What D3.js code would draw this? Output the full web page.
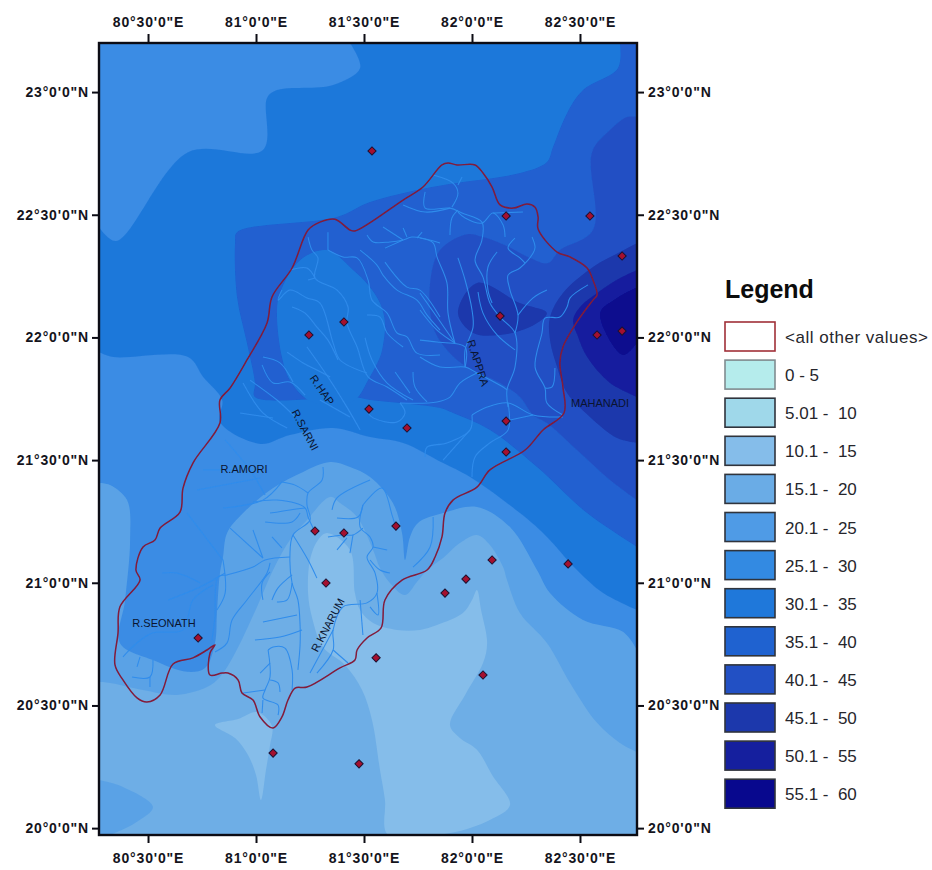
<!DOCTYPE html>
<html><head><meta charset="utf-8">
<style>html,body{margin:0;background:#fff}svg{display:block}</style>
<script src="https://cdn.jsdelivr.net/npm/d3@7"></script></head><body>
<div id="chart"></div>
<script>
const lonDomain=[80.273,82.764], latDomain=[23.2,19.972];
const lonTicks=[80.5,81,81.5,82,82.5];
const latTicks=[23,22.5,22,21.5,21,20.5,20];
const legendLabels=["<all other values>","0 - 5","5.01 -  10","10.1 -  15","15.1 -  20","20.1 -  25","25.1 -  30","30.1 -  35","35.1 -  40","40.1 -  45","45.1 -  50","50.1 -  55","55.1 -  60"];
const legendColors=["#ffffff","#b5ecec","#9fd8ea","#85bdea","#6aace6","#4f9be6","#338ae2","#1f78da","#1f62d0","#2250c4","#1c38ac","#151f9e","#08088e"];
const legendStrokes=["#a03038","#808c90","#30343c","#30343c","#30343c","#30343c","#30343c","#30343c","#30343c","#30343c","#30343c","#30343c","#30343c"];

// rainfall bands: each is the region at or above the lower class limit (lon, lat)
const low10=[[81.329,21.203],[81.435,21.134],[81.458,20.958],[81.482,20.889],[81.542,20.836],[81.653,20.808],[81.759,20.808],[81.838,20.828],[81.958,20.877],[82,20.93],[82.023,20.971],[82.042,20.889],[82.07,20.755],[82.051,20.673],[81.968,20.543],[81.898,20.42],[81.944,20.367],[82.023,20.319],[82.093,20.217],[82.176,20.094],[82.083,20.033],[81.898,19.98],[81.611,19.972],[81.597,20.115],[81.574,20.237],[81.537,20.441],[81.491,20.563],[81.412,20.665],[81.31,20.738],[81.259,20.86],[81.241,20.958],[81.25,21.093],[81.287,21.174]];
const low10Spike=[[80.81,20.42],[80.917,20.445],[81.005,20.473],[81.074,20.416],[81.065,20.339],[81.046,20.237],[81.023,20.115],[81,20.217],[80.963,20.298],[80.903,20.367]];
const ge20Corner=[[80.273,20.196],[80.384,20.168],[80.523,20.086],[80.44,20.021],[80.324,19.972],[80.273,19.972]];
const ge20=[[80.273,20.596],[80.324,20.592],[80.477,20.563],[80.634,20.543],[80.773,20.575],[80.833,20.616],[80.894,20.698],[81.005,20.902],[81.079,21.052],[81.157,21.174],[81.236,21.256],[81.343,21.35],[81.389,21.325],[81.468,21.268],[81.542,21.134],[81.574,21.06],[81.62,20.999],[81.69,20.95],[81.745,21.003],[81.792,21.052],[81.866,21.101],[81.944,21.162],[82.023,21.195],[82.083,21.154],[82.144,21.064],[82.162,21.011],[82.222,20.877],[82.347,20.755],[82.454,20.592],[82.579,20.429],[82.685,20.347],[82.764,20.31],[82.764,23.2],[80.273,23.2]];
const ge25=[[80.273,21.407],[80.324,21.399],[80.403,21.337],[80.417,21.174],[80.394,20.93],[80.37,20.755],[80.523,20.685],[80.681,20.637],[80.764,20.653],[80.81,20.755],[80.819,20.877],[80.833,21.04],[80.847,21.105],[80.866,21.203],[80.94,21.284],[81.079,21.386],[81.218,21.452],[81.343,21.492],[81.435,21.472],[81.528,21.431],[81.634,21.325],[81.676,21.203],[81.69,21.093],[81.713,21.187],[81.75,21.244],[81.866,21.284],[82.023,21.309],[82.176,21.227],[82.301,21.052],[82.361,20.958],[82.514,20.848],[82.699,20.8],[82.764,20.726],[82.764,23.2],[80.273,23.2]];
const ge30=[[80.273,21.941],[80.338,21.92],[80.685,21.92],[80.755,21.839],[80.843,21.745],[80.833,21.655],[81.019,21.566],[81.157,21.602],[81.357,21.631],[81.528,21.594],[81.681,21.57],[81.866,21.488],[81.991,21.431],[82.222,21.284],[82.338,21.195],[82.486,21.052],[82.607,20.958],[82.764,20.889],[82.764,23.2],[81.435,23.2],[81.482,23.098],[81.357,23.029],[81.097,23.008],[81.051,22.976],[81.032,22.764],[80.685,22.755],[80.352,22.393],[80.273,22.45]];
const ge35=[[80.912,22.429],[80.903,22.385],[80.912,22.165],[80.958,21.977],[80.995,21.814],[80.995,21.757],[81.454,21.757],[81.528,21.745],[81.667,21.733],[81.852,21.712],[81.912,21.692],[82.083,21.623],[82.301,21.472],[82.533,21.284],[82.764,21.146],[82.764,23.2],[82.685,23.2],[82.676,23.098],[82.514,23.008],[82.44,22.914],[82.375,22.776],[82.347,22.715],[82.222,22.67],[81.958,22.633],[81.792,22.609],[81.528,22.552],[81.375,22.491]];
const low30Hollow=[[81.329,22.356],[81.449,22.275],[81.519,22.214],[81.574,22.14],[81.597,22.059],[81.588,21.969],[81.574,21.92],[81.519,21.826],[81.458,21.745],[81.343,21.725],[81.241,21.745],[81.157,21.826],[81.12,21.92],[81.097,22.099],[81.111,22.181],[81.204,22.315]];
const ge40=[[82.764,22.898],[82.718,22.898],[82.639,22.845],[82.556,22.755],[82.56,22.438],[82.407,22.356],[82.352,22.303],[82.269,22.324],[82.153,22.376],[82.051,22.409],[81.977,22.421],[81.852,22.356],[81.806,22.222],[81.82,22.042],[81.884,21.949],[81.977,21.879],[82.13,21.814],[82.222,21.757],[82.283,21.684],[82.347,21.651],[82.486,21.541],[82.639,21.419],[82.764,21.337]];
const ge45Inner=[[82.023,22.222],[82.222,22.14],[82.347,22.099],[82.269,22.042],[82.13,22.01],[82.005,22.018],[81.935,22.099]];
const ge45=[[82.764,22.385],[82.685,22.348],[82.56,22.287],[82.421,22.181],[82.361,22.083],[82.361,21.989],[82.394,21.879],[82.44,21.773],[82.546,21.676],[82.671,21.59],[82.764,21.57]];
const ge50=[[82.764,22.275],[82.685,22.242],[82.579,22.181],[82.5,22.124],[82.468,22.071],[82.491,22.002],[82.533,21.92],[82.639,21.814],[82.764,21.757]];
const ge55=[[82.764,22.205],[82.671,22.161],[82.593,22.099],[82.699,21.928],[82.764,21.977]];

const stations=[[81.537,22.76],[82.158,22.495],[82.546,22.495],[82.695,22.332],[82.13,22.087],[82.579,22.01],[82.695,22.026],[81.245,22.01],[81.407,22.063],[81.523,21.708],[81.699,21.631],[82.158,21.659],[82.158,21.533],[81.648,21.231],[81.273,21.211],[81.407,21.203],[81.324,20.999],[82.093,21.093],[81.972,21.015],[81.875,20.958],[82.445,21.077],[80.732,20.775],[81.556,20.694],[82.051,20.624],[81.079,20.306],[81.477,20.262]];

const basin=[[81.681,22.56],[81.773,22.613],[81.861,22.703],[81.889,22.711],[81.931,22.703],[82.014,22.703],[82.051,22.67],[82.093,22.613],[82.13,22.54],[82.19,22.527],[82.255,22.544],[82.292,22.531],[82.306,22.491],[82.306,22.442],[82.394,22.348],[82.454,22.328],[82.533,22.283],[82.56,22.234],[82.579,22.173],[82.56,22.152],[82.486,22.063],[82.421,21.961],[82.407,21.896],[82.421,21.798],[82.426,21.692],[82.329,21.623],[82.246,21.541],[82.083,21.46],[82.023,21.39],[81.912,21.337],[81.875,21.284],[81.861,21.187],[81.829,21.105],[81.792,21.052],[81.676,21.011],[81.597,20.93],[81.579,20.816],[81.514,20.775],[81.468,20.726],[81.458,20.685],[81.389,20.653],[81.236,20.575],[81.181,20.571],[81.148,20.522],[81.12,20.453],[81.079,20.408],[81.019,20.453],[80.986,20.522],[80.935,20.551],[80.917,20.604],[80.87,20.632],[80.843,20.632],[80.787,20.624],[80.787,20.714],[80.81,20.747],[80.773,20.726],[80.708,20.694],[80.616,20.669],[80.556,20.543],[80.495,20.514],[80.449,20.531],[80.384,20.604],[80.347,20.665],[80.361,20.795],[80.37,20.902],[80.463,21.011],[80.444,21.052],[80.477,21.146],[80.532,21.174],[80.556,21.223],[80.648,21.288],[80.662,21.386],[80.708,21.488],[80.833,21.651],[80.833,21.745],[80.88,21.794],[80.958,21.908],[81.051,22.059],[81.074,22.165],[81.167,22.283],[81.241,22.438],[81.296,22.47],[81.366,22.482],[81.435,22.438],[81.458,22.434]];

const riversNorth=[
[[81.783,22.593],[81.783,22.527],[81.898,22.527],[81.954,22.507],[82.046,22.47],[82.046,22.397],[82.014,22.315],[82.051,22.246],[82.083,22.14],[82.13,22.083],[82.199,22.018],[82.199,21.879],[82.162,21.786],[82.167,21.716]],
[[81.82,22.662],[81.912,22.629],[81.935,22.588],[81.907,22.531]],
[[81.954,22.654],[81.935,22.621]],
[[81.681,22.54],[81.783,22.511],[81.898,22.527]],
[[81.935,22.511],[81.968,22.487],[82.046,22.466],[82.097,22.507],[82.144,22.458],[82.153,22.409]],
[[82.097,22.507],[82.236,22.511]],
[[81.935,22.519],[81.907,22.487],[81.898,22.417]],
[[82.199,22.018],[82.213,22.091],[82.176,22.193],[82.167,22.254],[82.222,22.283],[82.283,22.344],[82.292,22.368],[82.278,22.409]],
[[82.199,22.405],[82.167,22.364],[82.222,22.324],[82.246,22.303]],
[[82.213,22.091],[82.283,22.161],[82.347,22.193]],
[[81.935,22.324],[81.968,22.234],[82,22.112],[82.005,22.042],[81.968,21.949],[81.968,21.879]],
[[82.028,22.185],[82.051,22.099],[82.116,22.01],[82.199,21.949]],
[[82.116,22.348],[82.074,22.287],[82.074,22.193],[82.093,22.14]],
[[81.759,22.405],[81.82,22.385],[81.838,22.328],[81.884,22.222],[81.889,22.099],[81.921,21.977]],
[[81.759,22.181],[81.838,22.083],[81.921,21.977]],
[[81.759,22.112],[81.838,22.03],[81.921,21.977]],
[[81.759,21.989],[81.838,21.981],[81.968,21.961],[81.968,21.879]],
[[81.759,21.92],[81.852,21.879],[81.968,21.879],[82.023,21.855],[82.144,21.798],[82.162,21.786]],
[[82.023,21.855],[81.944,21.814],[81.898,21.757],[81.838,21.737],[81.667,21.733]],
[[82.537,22.214],[82.454,22.161],[82.44,22.124],[82.407,22.083],[82.338,22.079],[82.324,22.018],[82.292,21.879],[82.338,21.794],[82.347,21.733],[82.421,21.684]],
[[82.384,21.875],[82.371,21.798],[82.338,21.794]],
[[82,21.684],[82.07,21.716],[82.167,21.733],[82.283,21.684],[82.421,21.676]],
[[82,21.684],[81.991,21.623],[81.884,21.57],[81.792,21.553],[81.783,21.513]],
[[81.991,21.623],[81.866,21.5]],
[[82.176,21.663],[82.283,21.684]],
[[82.167,21.733],[82.167,21.623],[82.083,21.57],[82.014,21.513],[82,21.431]]
];
const riversMiddle=[
[[81.514,22.417],[81.542,22.389],[81.62,22.389],[81.681,22.397],[81.722,22.409],[81.852,22.385]],
[[81.588,22.45],[81.681,22.397]],
[[81.597,22.364],[81.681,22.397]],
[[81.769,22.429],[81.745,22.405]],
[[81.681,22.446],[81.699,22.409]],
[[81.482,22.356],[81.56,22.295],[81.588,22.254],[81.653,22.193],[81.745,22.152],[81.792,22.091],[81.852,22.03]],
[[81.597,22.307],[81.699,22.205],[81.759,22.193],[81.852,22.083]],
[[81.333,22.356],[81.403,22.328],[81.468,22.324],[81.519,22.234],[81.537,22.152],[81.607,22.099],[81.653,22.018],[81.699,22.002],[81.745,21.936],[81.852,21.928]],
[[81.514,22.091],[81.574,22.083],[81.607,22.018],[81.681,21.961]],
[[81.241,22.409],[81.259,22.356],[81.287,22.324],[81.273,22.242],[81.375,22.193],[81.426,22.124],[81.421,22.059],[81.468,21.961],[81.519,21.839],[81.607,21.798],[81.699,21.745]],
[[81.333,22.429],[81.333,22.356]],
[[81.157,22.275],[81.236,22.283],[81.273,22.242]],
[[81.241,22.234],[81.273,22.242]],
[[81.12,22.193],[81.102,22.152],[81.157,22.193],[81.236,22.161],[81.296,22.14],[81.357,21.977],[81.389,21.908],[81.514,21.855]],
[[81.167,22.124],[81.227,22.099],[81.282,22.042],[81.333,21.989],[81.38,21.908]],
[[81.505,21.998],[81.537,21.908],[81.607,21.814],[81.727,21.745]],
[[81.644,21.859],[81.713,21.773]],
[[81.727,21.859],[81.736,21.798],[81.792,21.737]],
[[81.144,21.94],[81.218,21.896],[81.282,21.867],[81.343,21.839]],
[[81.236,21.961],[81.333,21.839],[81.421,21.716],[81.482,21.623]],
[[81.032,21.92],[81.111,21.896],[81.171,21.818]],
[[81.028,21.888],[81.079,21.814],[81.157,21.818],[81.227,21.765]],
[[80.972,21.826],[81.097,21.745],[81.181,21.676]],
[[80.94,21.814],[81.032,21.692],[81.144,21.631]],
[[80.926,21.692],[81.079,21.672]],
[[81.667,21.733],[81.69,21.692],[81.653,21.655],[81.542,21.672],[81.519,21.692]],
[[81.296,21.745],[81.435,21.676]],
[[80.755,21.46],[80.894,21.46]],
[[80.727,21.378],[81.019,21.427]],
[[80.847,21.305],[81.032,21.337],[81.12,21.411]],
[[80.857,21.582],[80.972,21.46],[81.042,21.358]]
];
const riversSouth=[
[[81.31,21.472],[81.306,21.419],[81.241,21.366],[81.236,21.317],[81.25,21.256],[81.171,21.195],[81.157,21.105],[81.167,20.999],[81.194,20.93],[81.204,20.828],[81.204,20.746],[81.194,20.645]],
[[81.12,21.411],[81.181,21.398],[81.241,21.366]],
[[81.528,21.419],[81.375,21.346],[81.352,21.297]],
[[80.986,21.329],[81.097,21.337],[81.227,21.305],[81.241,21.268],[81.273,21.207]],
[[81.065,21.284],[81.157,21.297],[81.227,21.305]],
[[81.042,21.248],[81.167,21.248],[81.204,21.284]],
[[81.157,21.105],[81.042,21.093],[80.986,21.064],[80.866,21.032],[80.824,21.024],[80.81,20.86],[80.796,20.767]],
[[80.88,21.223],[81.032,21.101]],
[[80.986,21.215],[81.032,21.101]],
[[81.074,21.187],[81.12,21.142]],
[[81.065,21.044],[81.028,20.999],[81.032,20.93]],
[[81.167,21.032],[81.102,20.979],[81.074,20.93]],
[[81.167,20.999],[81.144,20.93],[81.097,20.922]],
[[81.19,20.869],[81.032,20.84]],
[[81.213,20.808],[81.111,20.779],[80.995,20.767]],
[[81.065,21.081],[81.051,21.04],[80.958,20.93],[80.889,20.848],[80.866,20.755],[80.81,20.718]],
[[80.847,21.093],[80.857,20.958],[80.819,20.889]],
[[80.857,21.04],[80.741,20.983],[80.593,20.93]],
[[80.741,21],[80.634,21.04],[80.565,21.04]],
[[80.681,21.284],[80.847,21.093]],
[[81.056,20.726],[81.079,20.738],[81.134,20.734],[81.167,20.645],[81.167,20.563]],
[[81.056,20.726],[81.065,20.616],[81.042,20.563],[81.032,20.53],[81.102,20.502],[81.102,20.461]],
[[81.065,20.604],[81.102,20.592],[81.111,20.555]],
[[81.042,20.563],[80.94,20.551]],
[[81.032,20.522],[81.028,20.469]],
[[81.065,20.673],[81.019,20.632]],
[[81.495,21.317],[81.583,21.386],[81.63,21.276],[81.644,21.235]],
[[81.495,21.317],[81.482,21.227],[81.528,21.187],[81.542,21.146],[81.514,21.105],[81.551,21.04],[81.56,20.958],[81.514,20.918],[81.403,20.902],[81.357,20.808],[81.357,20.726],[81.282,20.632]],
[[81.542,21.146],[81.607,21.134]],
[[81.528,21.093],[81.574,21.052],[81.62,21.04]],
[[81.56,20.958],[81.565,20.869],[81.528,20.902]],
[[81.482,20.93],[81.495,20.787]],
[[81.357,20.726],[81.426,20.673]],
[[81.357,20.808],[81.25,20.632]],
[[81.375,21.264],[81.472,21.268],[81.495,21.317]],
[[81.333,21.187],[81.403,21.195],[81.449,21.195],[81.495,21.223]],
[[81.449,21.195],[81.435,21.121]],
[[81.421,21.183],[81.375,21.134]],
[[81.171,21.195],[81.241,21.093],[81.282,21.019]],
[[80.384,20.698],[80.449,20.755],[80.523,20.796],[80.662,20.808],[80.708,20.93],[80.801,20.991]],
[[80.463,20.698],[80.449,20.657]],
[[80.523,20.685],[80.509,20.616],[80.426,20.616]],
[[80.509,20.616],[80.509,20.575]],
[[81.82,21.268],[81.806,21.146],[81.727,21.064]]
];
const riverNames=["R.HAP","R.SARNI","R.AMORI","MAHANADI","R.APPRA","R.SEONATH","R.KNARUM"];
const riverNameLons=[81.306,81.227,80.944,82.593,82.028,80.574,81.333];
const riverNameLats=[21.786,21.623,21.464,21.733,21.896,20.836,20.828];
const riverNameAngles=[55,62,0,0,72,0,-62];

const bandFill={b15:"#6eaee6",b10:"#85bdea",b20:"#5aa2e6",b25:"#3a8ce4",b30:"#1f78da",b35:"#2060d0",b40:"#2250c4",b45:"#1c38ac",b50:"#151f9e",b55:"#08088e"};
const layers=[[low10,"b10"],[low10Spike,"b10"],[ge20Corner,"b20"],[ge20,"b20"],[ge25,"b25"],[ge30,"b30"],[ge35,"b35"],[low30Hollow,"b30"],[ge40,"b40"],[ge45Inner,"b45"],[ge45,"b45"],[ge50,"b50"],[ge55,"b55"]];

const L=99,R=637,T=43,B=835;
const x=d3.scaleLinear().domain(lonDomain).range([L,R]);
const y=d3.scaleLinear().domain(latDomain).range([T,B]);
const svg=d3.select("#chart").append("svg").attr("width",932).attr("height",870).style("font-family","'Liberation Sans',Arial,sans-serif");
svg.append("rect").attr("width",932).attr("height",870).attr("fill","#fff");
const defs=svg.append("defs");
defs.append("clipPath").attr("id","frame").append("rect").attr("x",L).attr("y",T).attr("width",R-L).attr("height",B-T);
defs.append("filter").attr("id","soft").append("feGaussianBlur").attr("stdDeviation",0.5);
const curve=d3.curveCatmullRom.alpha(0.5);
const line=d3.line().x(d=>x(d[0])).y(d=>y(d[1])).curve(curve);
const closedLine=d3.line().x(d=>x(d[0])).y(d=>y(d[1])).curve(d3.curveCatmullRomClosed.alpha(0.5));
// Contours are smoothed; stretches that run along the frame stay straight.
const onSide=(a,b)=>(a[0]===b[0]&&lonDomain.includes(a[0]))||(a[1]===b[1]&&latDomain.includes(a[1]));
function bandPath(pts){
  const n=pts.length;
  let cut=-1;
  for(let i=0;i<n;i++) if(onSide(pts[i],pts[(i+1)%n])){cut=i;break;}
  if(cut<0) return closedLine(pts);
  const seq=d3.range(n).map(i=>pts[(cut+1+i)%n]);
  let d="",run=[seq[0]];
  const flush=()=>{ if(run.length>1){const s=line(run); d+=d?("L"+s.slice(1)):s;} else {d+=(d?"L":"M")+x(run[0][0])+","+y(run[0][1]);} };
  for(let i=1;i<n;i++){
    if(onSide(seq[i-1],seq[i])){flush();run=[seq[i]];} else run.push(seq[i]);
  }
  flush();
  return d+"Z";
}
const map=svg.append("g").attr("clip-path","url(#frame)");
const inner=map.append("g").attr("filter","url(#soft)");
inner.append("rect").attr("x",L-3).attr("y",T-3).attr("width",R-L+6).attr("height",B-T+6).attr("fill",bandFill.b15);
inner.selectAll("path.band").data(layers).join("path").attr("class","band")
  .attr("d",d=>bandPath(d[0])).attr("fill",d=>bandFill[d[1]]);
inner.selectAll("path.river").data([...riversNorth,...riversMiddle,...riversSouth]).join("path").attr("class","river")
  .attr("d",line).attr("fill","none").attr("stroke","#2f8cec").attr("stroke-width",1.05).attr("stroke-linejoin","round");
inner.append("path").attr("d",closedLine(basin)).attr("fill","none").attr("stroke","#821a3a").attr("stroke-width",1.5);
map.selectAll("path.st").data(stations).join("path").attr("class","st")
  .attr("transform",d=>`translate(${x(d[0])},${y(d[1])}) rotate(45)`)
  .attr("d",d3.symbol().type(d3.symbolSquare).size(34)()).attr("fill","#a4102f").attr("stroke","#1c1030").attr("stroke-width",1);
map.selectAll("text.rn").data(riverNames).join("text").attr("class","rn")
  .attr("transform",(d,i)=>`translate(${x(riverNameLons[i])},${y(riverNameLats[i])}) rotate(${riverNameAngles[i]})`)
  .attr("text-anchor","middle").attr("dy","0.35em").attr("font-size",11).attr("fill","#0a1430").text(d=>d);

const fmtLon=d=>{const deg=Math.floor(d),min=Math.round((d-deg)*60);return `${deg}°${min}'0"E`;};
const fmtLat=d=>{const deg=Math.floor(d),min=Math.round((d-deg)*60);return `${deg}°${min}'0"N`;};
function style(g){g.selectAll(".domain").remove();g.selectAll("line").attr("stroke","#0c0c14").attr("stroke-width",2);
  g.selectAll("text").attr("font-size",14).attr("font-weight","bold").attr("fill","#14141c").attr("font-family","'Liberation Sans',Arial,sans-serif").style("letter-spacing","0.85px");}
svg.append("g").attr("transform",`translate(0,${T})`).call(d3.axisTop(x).tickValues(lonTicks).tickFormat(fmtLon).tickSize(9).tickPadding(7)).call(style);
svg.append("g").attr("transform",`translate(0,${B})`).call(d3.axisBottom(x).tickValues(lonTicks).tickFormat(fmtLon).tickSize(8).tickPadding(10)).call(style);
svg.append("g").attr("transform",`translate(${L},0)`).call(d3.axisLeft(y).tickValues(latTicks).tickFormat(fmtLat).tickSize(7).tickPadding(3)).call(style);
svg.append("g").attr("transform",`translate(${R},0)`).call(d3.axisRight(y).tickValues(latTicks).tickFormat(fmtLat).tickSize(7).tickPadding(4)).call(style);
svg.append("rect").attr("x",L).attr("y",T).attr("width",R-L).attr("height",B-T).attr("fill","none").attr("stroke","#0c0c14").attr("stroke-width",2.4);

svg.append("text").attr("x",725).attr("y",298).attr("font-size",25).attr("font-weight","bold").attr("fill","#0c0c0c").text("Legend");
const lg=svg.selectAll("g.lg").data(legendLabels).join("g").attr("class","lg").attr("transform",(d,i)=>`translate(725,${322+38.1*i})`);
lg.append("rect").attr("width",50).attr("height",29).attr("fill",(d,i)=>legendColors[i]).attr("stroke",(d,i)=>legendStrokes[i]).attr("stroke-width",1.6);
lg.append("text").attr("x",60).attr("y",21).attr("font-size",17).attr("fill","#26262c").style("white-space","pre").attr("textLength",(d,i)=>i==0?143:null).text(d=>d);
</script></body></html>
